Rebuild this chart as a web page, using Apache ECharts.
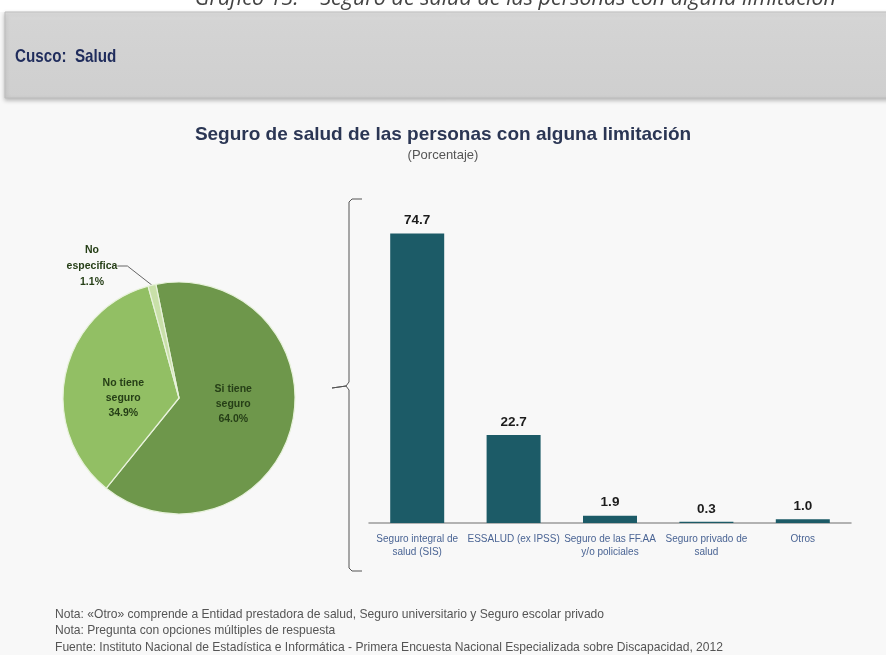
<!DOCTYPE html>
<html>
<head>
<meta charset="utf-8">
<script src="https://cdn.jsdelivr.net/npm/echarts@6/dist/echarts.min.js"></script>
<style>
  html, body { margin: 0; padding: 0; background: #f8f8f8; }
  #main { width: 886px; height: 655px; }
</style>
</head>
<body>
<div id="main"></div>
<script>
// pie: condicion de seguro
const pieNames = ['Si tiene\nseguro', 'No tiene\nseguro', 'No\nespecifica'];
const pieValues = [64.0, 34.9, 1.1];
const pieColors = ['#6e974b', '#92bf64', '#c9e0a9'];

// barras: tipo de seguro
const barCategories = [
  'Seguro integral de\nsalud (SIS)',
  'ESSALUD (ex IPSS)',
  'Seguro de las FF.AA\ny/o policiales',
  'Seguro privado de\nsalud',
  'Otros'
];
const barValues = [74.7, 22.7, 1.9, 0.3, 1.0];

const notes = [
  'Nota: «Otro» comprende a Entidad prestadora de salud, Seguro universitario y Seguro escolar privado',
  'Nota: Pregunta con opciones múltiples de respuesta',
  'Fuente: Instituto Nacional de Estadística e Informática - Primera Encuesta Nacional Especializada sobre Discapacidad, 2012'
];

// ajuste fino de las etiquetas del pie
const pieLabelShift = [[-5, -8], [4, 13]];

const chart = echarts.init(document.getElementById('main'));

const option = {
  backgroundColor: '#f8f8f8',
  animation: false,
  title: [{
    text: 'Seguro de salud de las personas con alguna limitación',
    subtext: '(Porcentaje)',
    left: 'center',
    top: 120,
    itemGap: 5,
    textStyle: { fontFamily: 'Liberation Sans, Arial', fontSize: 19, fontWeight: 'bold', color: '#2b3654' },
    subtextStyle: { fontFamily: 'Liberation Sans, Arial', fontSize: 13, color: '#555' }
  }],
  graphic: [
    { type: 'rect', z: -10, shape: { x: 0, y: 0, width: 886, height: 12 }, style: { fill: '#ffffff' } },
    {
      type: 'text', x: 836, y: 9.5, z: -10,
      style: {
        text: 'Gráfico 13: – Seguro de salud de las personas con alguna limitación',
        font: 'italic 21.5px "Open Sans", sans-serif', fill: '#444', align: 'right', verticalAlign: 'bottom'
      }
    },
    {
      type: 'rect', z: -9,
      shape: { x: 5, y: 12, width: 890, height: 86 },
      style: {
        fill: new echarts.graphic.LinearGradient(0, 0, 0, 1, [
          { offset: 0, color: '#e2e2e2' }, { offset: 0.1, color: '#d4d4d4' }, { offset: 1, color: '#cfcfcf' }
        ]),
        stroke: '#bdbdbd', lineWidth: 1,
        shadowBlur: 4, shadowColor: 'rgba(0,0,0,0.25)', shadowOffsetY: 2
      }
    },
    {
      type: 'text', x: 15, y: 57, scaleX: 0.8,
      style: { text: 'Cusco:  Salud', font: 'bold 19px "Liberation Sans", Arial', fill: '#1f2c5c', verticalAlign: 'middle' }
    },
    {
      type: 'polyline', z: 5,
      shape: { points: [[362, 199], [352, 199], [349, 202], [349, 382], [346, 386], [332, 388], [346, 386], [349, 390], [349, 568], [352, 571], [362, 571]] },
      style: { stroke: '#555', lineWidth: 1, fill: null }
    },
    {
      type: 'text', x: 55, y: 606, scaleX: 0.93,
      style: { text: notes.join('\n'), font: '13px "Liberation Sans", Arial', fill: '#555', lineHeight: 16.5 }
    }
  ],
  grid: { left: 369, right: 35, top: 213, bottom: 132 },
  xAxis: {
    type: 'category',
    data: barCategories,
    axisLine: { lineStyle: { color: '#9a9a9a', width: 1.5 } },
    axisTick: { show: false },
    axisLabel: { interval: 0, fontSize: 10, lineHeight: 13, color: '#4a6494', margin: 10, fontFamily: 'Liberation Sans, Arial' }
  },
  yAxis: { type: 'value', min: 0, max: 80, show: false, splitLine: { show: false } },
  series: [
    {
      type: 'pie',
      center: [179, 398],
      radius: 116,
      startAngle: 101.5,
      clockwise: true,
      data: pieNames.map((n, i) => ({ name: n, value: pieValues[i], itemStyle: { color: pieColors[i] } })),
      itemStyle: { borderColor: '#e8f2dc', borderWidth: 1.2 },
      label: {
        position: 'inside',
        formatter: p => p.name + '\n' + p.value.toFixed(1) + '%',
        fontFamily: 'Liberation Sans, Arial', fontSize: 10.5, fontWeight: 'bold', lineHeight: 15, color: '#263f17'
      },
      labelLine: { show: false },
      labelLayout: p => p.dataIndex === 2
        ? { x: 92, y: 266, align: 'center', verticalAlign: 'middle' }
        : { dx: pieLabelShift[p.dataIndex][0], dy: pieLabelShift[p.dataIndex][1] }
    },
    {
      type: 'bar',
      data: barValues,
      barWidth: 54,
      itemStyle: { color: '#1c5b67' },
      label: {
        show: true, position: 'top', distance: 6,
        formatter: p => p.value.toFixed(1),
        fontFamily: 'Liberation Sans, Arial', fontSize: 13.5, fontWeight: 'bold', color: '#1c1c1c'
      }
    }
  ]
};

// linea guia de "No especifica"
option.series[0].data[2].label = { position: 'outside', lineHeight: 16 };
option.series[0].data[2].labelLine = { show: true, length: 6, length2: 10, lineStyle: { color: '#666', width: 1 } };

chart.setOption(option);
</script>
</body>
</html>
